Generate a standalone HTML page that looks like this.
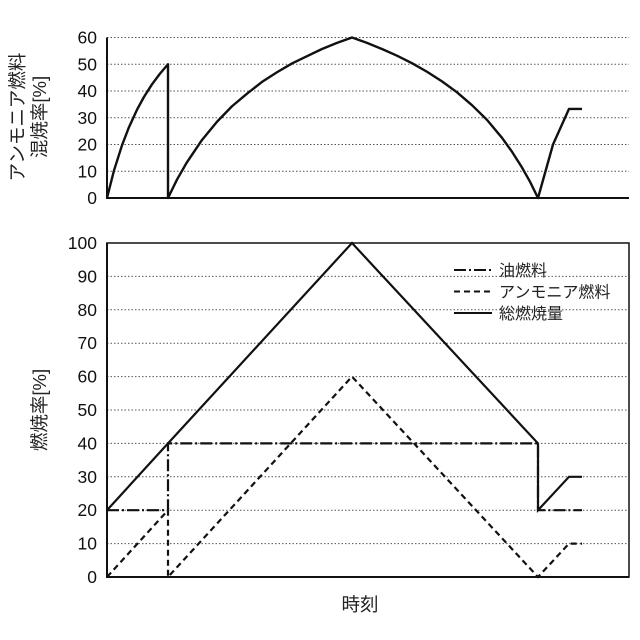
<!DOCTYPE html>
<html><head><meta charset="utf-8"><style>
body{margin:0;background:#fff}
svg{display:block;font-family:"Liberation Sans","Noto Sans CJK JP",sans-serif}
</style></head><body>
<svg id="c" width="640" height="640" viewBox="0 0 640 640"></svg>
<script>
// shared time axis (arbitrary units)
const timeDomain=[0,522];
// top chart: ammonia co-firing ratio [%]
const mixTimes=[0,7,15,22,30,37,45,53,61,61,70,80,95,110,125,140,155,170,185,200,215,230,245,260,275,290,305,320,335,350,365,380,395,405,415,423,431,446,462,475];
const mixValues=[0,10.3,19.7,26.5,33,37.8,42.5,46.5,50,0,6.9,13.4,21.7,28.5,34.3,39,43.4,47,50.3,53,55.7,58,60,58,55.7,53.2,50.4,47.2,43.6,39.5,34.7,29.2,22.5,17.3,11.4,6.1,0,20,33.3,33.3];
const topTicks=[0,10,20,30,40,50,60];
// bottom chart: combustion rate [%]
const oilTimes=[0,61,61,431,431,475];
const oilValues=[20,20,40,40,20,20];
const ammTimes=[0,61,61,245,431,462,475];
const ammValues=[0,20,0,60,0,10,10];
const totTimes=[0,61,245,431,431,462,475];
const totValues=[20,40,100,40,20,30,30];
const bottomTicks=[0,10,20,30,40,50,60,70,80,90,100];

const NS="http://www.w3.org/2000/svg";
const svg=document.getElementById('c');
const X0=107,X1=629;
const x=t=>X0+(t-timeDomain[0])/(timeDomain[1]-timeDomain[0])*(X1-X0);
const yTop=v=>198-v/60*160.5;
const yBot=v=>577-v/100*334;
function mk(tag,attrs,parent){const e=document.createElementNS(NS,tag);for(const k in attrs)e.setAttribute(k,attrs[k]);(parent||svg).appendChild(e);return e;}

topTicks.forEach(v=>{
  if(v>0){const g=mk('line',{x1:X0,x2:X1,y1:yTop(v),y2:yTop(v),stroke:'#555','stroke-width':1,'stroke-dasharray':'1.5 2'});
  
  }
  const t=mk('text',{x:97,y:yTop(v)+6,'text-anchor':'end','font-size':17.5,fill:'#111'});t.textContent=v;
  
  
});
const ta=mk('path',{d:`M${X0} ${yTop(60)}V${yTop(0)}H${X1}`,fill:'none',stroke:'#111','stroke-width':2});


const mixLine=mk('polyline',{points:mixTimes.map((t,i)=>x(t)+','+yTop(mixValues[i])).join(' '),fill:'none',stroke:'#111','stroke-width':2.4,'stroke-linejoin':'round'});



bottomTicks.forEach(v=>{
  if(v>0&&v<100){const g=mk('line',{x1:X0,x2:X1,y1:yBot(v),y2:yBot(v),stroke:'#555','stroke-width':1,'stroke-dasharray':'1.5 2'});
  
  }
  const t=mk('text',{x:97,y:yBot(v)+6,'text-anchor':'end','font-size':17.5,fill:'#111'});t.textContent=v;
  
  
});
const box=mk('rect',{x:X0,y:yBot(100),width:X1-X0,height:yBot(0)-yBot(100),fill:'none',stroke:'#111','stroke-width':1.5});


const ba=mk('path',{d:`M${X0} ${yBot(100)}V${yBot(0)}H${X1}`,fill:'none',stroke:'#111','stroke-width':2});



const series=[[oilTimes,oilValues,'12 3 2 3','oil-fuel-line'],[ammTimes,ammValues,'6 4','ammonia-fuel-line'],[totTimes,totValues,'','total-combustion-line']];
series.forEach(([ts,vs,dash,name])=>{
  const p=mk('polyline',{points:ts.map((t,i)=>x(t)+','+yBot(vs[i])).join(' '),fill:'none',stroke:'#111','stroke-width':2.2,'stroke-dasharray':dash});
  
  
});

const legItems=[['油燃料','12 3 2 3'],['アンモニア燃料','6 4'],['総燃焼量','']];
legItems.forEach(([lab,dash],i)=>{
  const yy=270+i*21.5;
  const g=mk('g',{});
  
  
  mk('line',{x1:454,x2:492,y1:yy,y2:yy,stroke:'#111','stroke-width':2,'stroke-dasharray':dash},g);
  const t=mk('text',{x:499,y:yy+6,'font-size':16,fill:'#222'},g);t.textContent=lab;
});

const t1=mk('text',{transform:'translate(24,117) rotate(-90)','text-anchor':'middle','font-size':18.5,fill:'#222'});t1.textContent='アンモニア燃料';


const t2=mk('text',{transform:'translate(46,117) rotate(-90)','text-anchor':'middle','font-size':18.5,fill:'#222'});t2.textContent='混焼率[%]';


const t3=mk('text',{transform:'translate(46,410) rotate(-90)','text-anchor':'middle','font-size':18.5,fill:'#222'});t3.textContent='燃焼率[%]';


const t4=mk('text',{x:360,y:611,'text-anchor':'middle','font-size':18.5,fill:'#222'});t4.textContent='時刻';


</script>
</body></html>
